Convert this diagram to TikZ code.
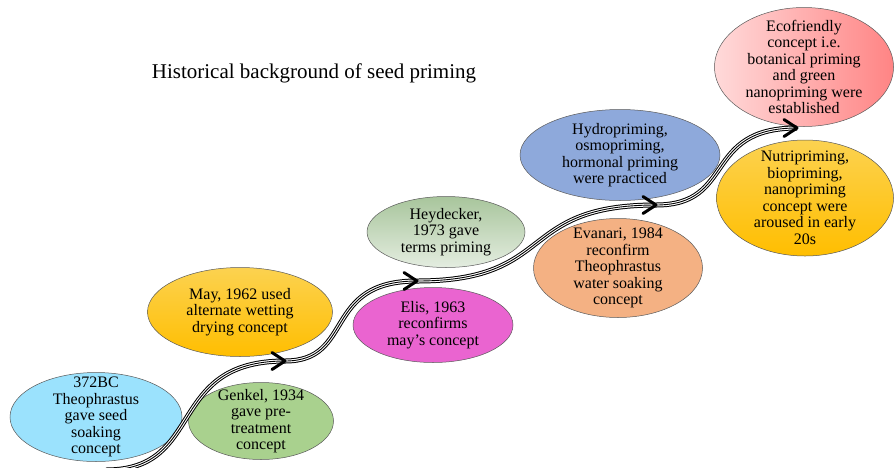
\documentclass[tikz,border=0pt]{standalone}
\usepackage{fontspec}
\setmainfont{Liberation Serif}
\usetikzlibrary{shapes.geometric}

\definecolor{skyfill}{HTML}{9BE2FD}
\definecolor{leaffill}{HTML}{A9D18E}
\definecolor{orchidfill}{HTML}{EA64D0}
\definecolor{salmonfill}{HTML}{F4B183}
\definecolor{slatefill}{HTML}{8EA9DB}
\definecolor{goldtop}{HTML}{FCD250}
\definecolor{goldbot}{HTML}{FFBE00}
\definecolor{sagetop}{HTML}{A8C59C}
\definecolor{sagebot}{HTML}{E4EDE0}
\definecolor{roseleft}{HTML}{FFDADA}
\definecolor{roseright}{HTML}{FF8484}

\begin{document}
\begin{tikzpicture}[x=1pt, y=-1pt,
  oval/.style={ellipse, draw=black!65, line width=0.5pt, inner sep=0pt},
  goldoval/.style={oval, top color=goldtop, bottom color=goldbot},
  txt/.style={align=center, inner sep=0pt, font=\fontsize{16}{16.5}\selectfont},
  trail/.style={line width=0.9pt, preaction={draw, line width=5pt}, preaction={draw, white, line width=3pt}},
  chev/.style={line width=3pt, line cap=round, line join=round}]
\useasboundingbox (0,0) rectangle (896,467);

\node[font=\fontsize{21}{24}\selectfont] (title) at (314,73) {Historical background of seed priming};

% ellipses
\node[oval, fill=skyfill, minimum width=172pt, minimum height=89pt] (theo) at (96,417) {};
\node[oval, fill=leaffill, minimum width=145pt, minimum height=77pt] (genkel) at (261,421) {};
\node[goldoval, minimum width=185pt, minimum height=89pt] (may) at (240,312) {};
\node[oval, fill=orchidfill, minimum width=160pt, minimum height=75pt] (elis) at (433,325) {};
\node[oval, top color=sagetop, bottom color=sagebot, minimum width=158pt, minimum height=71pt] (heyd) at (446,232) {};
\node[oval, fill=salmonfill, minimum width=169pt, minimum height=99pt] (evanari) at (618,268) {};
\node[oval, fill=slatefill, minimum width=200pt, minimum height=91pt] (hydro) at (620,155) {};
\node[oval, left color=roseleft, right color=roseright, minimum width=179pt, minimum height=119pt] (eco) at (804,67) {};
\node[goldoval, minimum width=177pt, minimum height=116pt] (nutri) at (805,198) {};

% timeline
\coordinate (s0) at (106,470);
\coordinate (s1) at (285,361);
\coordinate (s2) at (417,281);
\coordinate (s3) at (656,205);
\coordinate (s4) at (797,128);
\draw[trail] (s0) to[out=0, in=180, out distance=100pt, in distance=120pt] (s1)
  to[out=0, in=180, out distance=70pt, in distance=95pt] (s2)
  to[out=0, in=180, out distance=140pt, in distance=140pt] (s3)
  to[out=0, in=180, out distance=80pt, in distance=95pt] (s4);
\foreach \p in {s1,s2,s3,s4}
  \draw[chev] ([shift={(-13,-8.5)}]\p) -- (\p) -- ([shift={(-13,8.5)}]\p);

% texts
\node[txt] (theo-t) at (theo) {372BC\\Theophrastus\\gave seed\\soaking\\concept};
\node[txt] (genkel-t) at (genkel) {Genkel, 1934\\gave pre-\\treatment\\concept};
\node[txt] (may-t) at (may) {May, 1962 used\\alternate wetting\\drying concept};
\node[txt] (elis-t) at (elis) {Elis, 1963\\reconfirms\\may’s concept};
\node[txt] (heyd-t) at (heyd) {Heydecker,\\1973 gave\\terms priming};
\node[txt] (evanari-t) at (evanari) {Evanari, 1984\\reconfirm\\Theophrastus\\water soaking\\concept};
\node[txt] (hydro-t) at (hydro) {Hydropriming,\\osmopriming,\\hormonal priming\\were practiced};
\node[txt] (eco-t) at (eco) {Ecofriendly\\concept i.e.\\botanical priming\\and green\\nanopriming were\\established};
\node[txt] (nutri-t) at (nutri) {Nutripriming,\\biopriming,\\nanopriming\\concept were\\aroused in early\\20s};
\end{tikzpicture}
\end{document}
